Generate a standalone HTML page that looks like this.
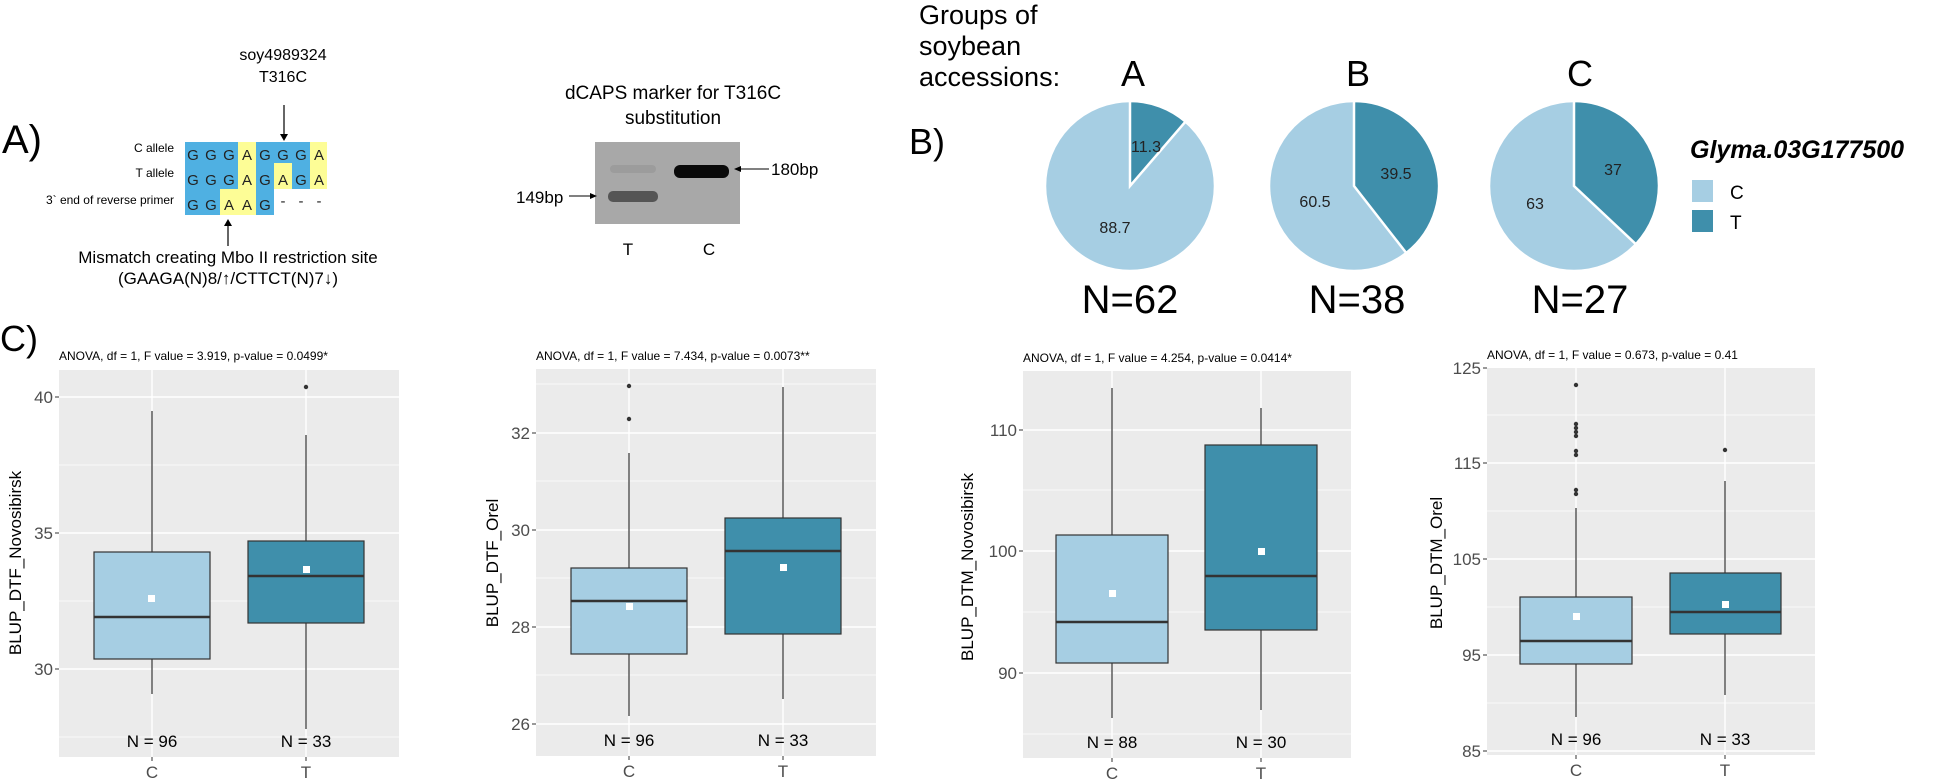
<!DOCTYPE html>
<html><head><meta charset="utf-8"><style>
html,body{margin:0;padding:0;background:#fff}
svg{display:block;font-family:"Liberation Sans",Arial,sans-serif}
</style></head><body>
<svg width="1936" height="784" viewBox="0 0 1936 784" xmlns="http://www.w3.org/2000/svg">
<!-- Panel A -->
<text x="2" y="153" font-size="40">A)</text>
<text x="283" y="60" font-size="16" text-anchor="middle">soy4989324</text>
<text x="283" y="82" font-size="16" text-anchor="middle">T316C</text>
<line x1="284" y1="105" x2="284" y2="136" stroke="#000" stroke-width="1.2"/>
<polygon points="280,134 288,134 284,141" fill="#000"/>
<g font-size="12" text-anchor="end">
<text x="174" y="152">C allele</text>
<text x="174" y="177">T allele</text>
<text x="174" y="204">3` end of reverse primer</text>
</g>
<g>
<rect x="185" y="142" width="53" height="25" fill="#4fb0e2"/><rect x="238" y="142" width="18" height="25" fill="#fdfd96"/>
<rect x="256" y="142" width="54" height="25" fill="#4fb0e2"/><rect x="310" y="142" width="17" height="25" fill="#fdfd96"/>
<rect x="185" y="167" width="53" height="22" fill="#4fb0e2"/><rect x="238" y="167" width="18" height="22" fill="#fdfd96"/>
<rect x="256" y="167" width="18" height="22" fill="#4fb0e2"/><rect x="274" y="163" width="18" height="26" fill="#fdfd96"/>
<rect x="292" y="163" width="18" height="26" fill="#4fb0e2"/><rect x="310" y="167" width="17" height="22" fill="#fdfd96"/>
<rect x="185" y="189" width="35" height="26" fill="#4fb0e2"/><rect x="220" y="189" width="36" height="26" fill="#fdfd96"/>
<rect x="256" y="189" width="18" height="26" fill="#4fb0e2"/>
</g>
<g font-size="15" fill="#222" text-anchor="middle">
<text x="193" y="160">G</text><text x="211" y="160">G</text><text x="229" y="160">G</text><text x="247" y="160">A</text><text x="265" y="160">G</text><text x="283" y="160">G</text><text x="301" y="160">G</text><text x="319" y="160">A</text>
<text x="193" y="185">G</text><text x="211" y="185">G</text><text x="229" y="185">G</text><text x="247" y="185">A</text><text x="265" y="185">G</text><text x="283" y="185">A</text><text x="301" y="185">G</text><text x="319" y="185">A</text>
<text x="193" y="210">G</text><text x="211" y="210">G</text><text x="229" y="210">A</text><text x="247" y="210">A</text><text x="265" y="210">G</text><text x="283" y="206">-</text><text x="301" y="206">-</text><text x="319" y="206">-</text>
</g>
<line x1="228" y1="224" x2="228" y2="246" stroke="#000" stroke-width="1.2"/>
<polygon points="224,226 232,226 228,219" fill="#000"/>
<text x="228" y="263" font-size="17" text-anchor="middle">Mismatch creating Mbo II restriction site</text>
<text x="228" y="284" font-size="17" text-anchor="middle">(GAAGA(N)8/↑/CTTCT(N)7↓)</text>

<!-- Gel -->
<text x="673" y="99" font-size="19" text-anchor="middle">dCAPS marker for T316C</text>
<text x="673" y="124" font-size="19" text-anchor="middle">substitution</text>
<rect x="595" y="142" width="145" height="82" fill="#a8a8a8"/>
<rect x="608" y="191" width="50" height="11" rx="5" fill="#555"/>
<rect x="610" y="165" width="46" height="8" rx="4" fill="#9c9c9c"/>
<rect x="674" y="165" width="55" height="13" rx="6" fill="#0a0a0a"/>
<text x="516" y="203" font-size="17">149bp</text>
<line x1="569" y1="196" x2="592" y2="196" stroke="#000"/><polygon points="590,193 597,196 590,199"/>
<text x="771" y="175" font-size="17">180bp</text>
<line x1="740" y1="169" x2="769" y2="169" stroke="#000"/><polygon points="741,166 734,169 741,172"/>
<text x="628" y="255" font-size="17" text-anchor="middle">T</text>
<text x="709" y="255" font-size="17" text-anchor="middle">C</text>

<!-- Panel B -->
<g font-size="27">
<text x="919" y="24">Groups of</text>
<text x="919" y="55">soybean</text>
<text x="919" y="86">accessions:</text>
</g>
<text x="909" y="154" font-size="36">B)</text>
<g font-size="36" text-anchor="middle"><text x="1133" y="86">A</text><text x="1358" y="86">B</text><text x="1580" y="86">C</text></g>
<g stroke="#fff" stroke-width="2.5">
<circle cx="1130" cy="186" r="85" fill="#a6cee3"/>
<path d="M1130,186 L1130,101 A85,85 0 0,1 1185.5,121.6 Z" fill="#3f8fab"/>
<circle cx="1354" cy="186" r="85" fill="#a6cee3"/>
<path d="M1354,186 L1354,101 A85,85 0 0,1 1406.3,253 Z" fill="#3f8fab"/>
<circle cx="1574" cy="186" r="85" fill="#a6cee3"/>
<path d="M1574,186 L1574,101 A85,85 0 0,1 1635.9,244.2 Z" fill="#3f8fab"/>
</g>
<g font-size="16" fill="#222" text-anchor="middle">
<text x="1146" y="152">11.3</text><text x="1115" y="233">88.7</text>
<text x="1396" y="179">39.5</text><text x="1315" y="207">60.5</text>
<text x="1613" y="175">37</text><text x="1535" y="209">63</text>
</g>
<g font-size="40" text-anchor="middle"><text x="1130" y="313">N=62</text><text x="1357" y="313">N=38</text><text x="1580" y="313">N=27</text></g>
<text x="1690" y="158" font-size="25" font-weight="bold" font-style="italic">Glyma.03G177500</text>
<rect x="1692" y="180" width="21" height="22" fill="#a6cee3"/>
<rect x="1692" y="210" width="21" height="22" fill="#3f8fab"/>
<text x="1730" y="199" font-size="19">C</text>
<text x="1730" y="229" font-size="19">T</text>

<!-- Panel C -->
<text x="0" y="351" font-size="36">C)</text>

<!-- Plot 1 -->
<g>
<text x="59" y="360" font-size="12">ANOVA, df = 1, F value = 3.919, p-value = 0.0499*</text>
<rect x="59" y="370" width="340" height="387" fill="#ebebeb"/>
<g stroke="#fff" stroke-width="0.7"><line x1="59" x2="399" y1="465" y2="465"/><line x1="59" x2="399" y1="601" y2="601"/><line x1="59" x2="399" y1="737" y2="737"/></g>
<g stroke="#fff" stroke-width="1.4"><line x1="59" x2="399" y1="397" y2="397"/><line x1="59" x2="399" y1="533" y2="533"/><line x1="59" x2="399" y1="669" y2="669"/><line x1="152" x2="152" y1="370" y2="757"/><line x1="306" x2="306" y1="370" y2="757"/></g>
<g stroke="#333" stroke-width="1"><line x1="55" x2="59" y1="397" y2="397"/><line x1="55" x2="59" y1="533" y2="533"/><line x1="55" x2="59" y1="669" y2="669"/><line x1="152" x2="152" y1="757" y2="761"/><line x1="306" x2="306" y1="757" y2="761"/></g>
<g font-size="17" fill="#4d4d4d" text-anchor="end"><text x="53" y="403">40</text><text x="53" y="539">35</text><text x="53" y="675">30</text></g>
<g font-size="17" fill="#4d4d4d" text-anchor="middle"><text x="152" y="778">C</text><text x="306" y="778">T</text></g>
<text transform="translate(21,563) rotate(-90)" font-size="17" text-anchor="middle">BLUP_DTF_Novosibirsk</text>
<g stroke="#333" stroke-width="1.2">
<line x1="152" x2="152" y1="411" y2="694"/><rect x="94" y="552" width="116" height="107" fill="#a6cee3"/><line x1="94" x2="210" y1="617" y2="617" stroke-width="2.5"/>
<line x1="306" x2="306" y1="435" y2="729"/><rect x="248" y="541" width="116" height="82" fill="#3f8fab"/><line x1="248" x2="364" y1="576" y2="576" stroke-width="2.5"/>
</g>
<circle cx="306" cy="387" r="2.2" fill="#333"/>
<rect x="148" y="595" width="7" height="7" fill="#fff"/><rect x="303" y="566" width="7" height="7" fill="#fff"/>
<g font-size="17" text-anchor="middle"><text x="152" y="747">N = 96</text><text x="306" y="747">N = 33</text></g>
</g>

<!-- Plot 2 -->
<g>
<text x="536" y="360" font-size="12">ANOVA, df = 1, F value = 7.434, p-value = 0.0073**</text>
<rect x="536" y="369" width="340" height="387" fill="#ebebeb"/>
<g stroke="#fff" stroke-width="0.7"><line x1="536" x2="876" y1="384" y2="384"/><line x1="536" x2="876" y1="481" y2="481"/><line x1="536" x2="876" y1="578" y2="578"/><line x1="536" x2="876" y1="675" y2="675"/></g>
<g stroke="#fff" stroke-width="1.4"><line x1="536" x2="876" y1="433" y2="433"/><line x1="536" x2="876" y1="530" y2="530"/><line x1="536" x2="876" y1="627" y2="627"/><line x1="536" x2="876" y1="724" y2="724"/><line x1="629" x2="629" y1="369" y2="756"/><line x1="783" x2="783" y1="369" y2="756"/></g>
<g stroke="#333"><line x1="532" x2="536" y1="433" y2="433"/><line x1="532" x2="536" y1="530" y2="530"/><line x1="532" x2="536" y1="627" y2="627"/><line x1="532" x2="536" y1="724" y2="724"/><line x1="629" x2="629" y1="756" y2="760"/><line x1="783" x2="783" y1="756" y2="760"/></g>
<g font-size="17" fill="#4d4d4d" text-anchor="end"><text x="530" y="439">32</text><text x="530" y="536">30</text><text x="530" y="633">28</text><text x="530" y="730">26</text></g>
<g font-size="17" fill="#4d4d4d" text-anchor="middle"><text x="629" y="777">C</text><text x="783" y="777">T</text></g>
<text transform="translate(498,563) rotate(-90)" font-size="17" text-anchor="middle">BLUP_DTF_Orel</text>
<g stroke="#333" stroke-width="1.2">
<line x1="629" x2="629" y1="453" y2="716"/><rect x="571" y="568" width="116" height="86" fill="#a6cee3"/><line x1="571" x2="687" y1="601" y2="601" stroke-width="2.5"/>
<line x1="783" x2="783" y1="387" y2="699"/><rect x="725" y="518" width="116" height="116" fill="#3f8fab"/><line x1="725" x2="841" y1="551" y2="551" stroke-width="2.5"/>
</g>
<circle cx="629" cy="386" r="2.2" fill="#333"/><circle cx="629" cy="419" r="2.2" fill="#333"/>
<rect x="626" y="603" width="7" height="7" fill="#fff"/><rect x="780" y="564" width="7" height="7" fill="#fff"/>
<g font-size="17" text-anchor="middle"><text x="629" y="746">N = 96</text><text x="783" y="746">N = 33</text></g>
</g>

<!-- Plot 3 -->
<g>
<text x="1023" y="362" font-size="12">ANOVA, df = 1, F value = 4.254, p-value = 0.0414*</text>
<rect x="1023" y="371" width="328" height="387" fill="#ebebeb"/>
<g stroke="#fff" stroke-width="0.7"><line x1="1023" x2="1351" y1="490" y2="490"/><line x1="1023" x2="1351" y1="612" y2="612"/><line x1="1023" x2="1351" y1="734" y2="734"/></g>
<g stroke="#fff" stroke-width="1.4"><line x1="1023" x2="1351" y1="430" y2="430"/><line x1="1023" x2="1351" y1="551" y2="551"/><line x1="1023" x2="1351" y1="673" y2="673"/><line x1="1112" x2="1112" y1="371" y2="758"/><line x1="1261" x2="1261" y1="371" y2="758"/></g>
<g stroke="#333"><line x1="1019" x2="1023" y1="430" y2="430"/><line x1="1019" x2="1023" y1="551" y2="551"/><line x1="1019" x2="1023" y1="673" y2="673"/><line x1="1112" x2="1112" y1="758" y2="762"/><line x1="1261" x2="1261" y1="758" y2="762"/></g>
<g font-size="17" fill="#4d4d4d" text-anchor="end"><text x="1017" y="436">110</text><text x="1017" y="557">100</text><text x="1017" y="679">90</text></g>
<g font-size="17" fill="#4d4d4d" text-anchor="middle"><text x="1112" y="779">C</text><text x="1261" y="779">T</text></g>
<text transform="translate(973,567) rotate(-90)" font-size="17" text-anchor="middle">BLUP_DTM_Novosibirsk</text>
<g stroke="#333" stroke-width="1.2">
<line x1="1112" x2="1112" y1="388" y2="718"/><rect x="1056" y="535" width="112" height="128" fill="#a6cee3"/><line x1="1056" x2="1168" y1="622" y2="622" stroke-width="2.5"/>
<line x1="1261" x2="1261" y1="408" y2="710"/><rect x="1205" y="445" width="112" height="185" fill="#3f8fab"/><line x1="1205" x2="1317" y1="576" y2="576" stroke-width="2.5"/>
</g>
<rect x="1109" y="590" width="7" height="7" fill="#fff"/><rect x="1258" y="548" width="7" height="7" fill="#fff"/>
<g font-size="17" text-anchor="middle"><text x="1112" y="748">N = 88</text><text x="1261" y="748">N = 30</text></g>
</g>

<!-- Plot 4 -->
<g>
<text x="1487" y="359" font-size="12">ANOVA, df = 1, F value = 0.673, p-value = 0.41</text>
<rect x="1487" y="368" width="328" height="387" fill="#ebebeb"/>
<g stroke="#fff" stroke-width="0.7"><line x1="1487" x2="1815" y1="415" y2="415"/><line x1="1487" x2="1815" y1="511" y2="511"/><line x1="1487" x2="1815" y1="607" y2="607"/><line x1="1487" x2="1815" y1="703" y2="703"/></g>
<g stroke="#fff" stroke-width="1.4"><line x1="1487" x2="1815" y1="463" y2="463"/><line x1="1487" x2="1815" y1="559" y2="559"/><line x1="1487" x2="1815" y1="655" y2="655"/><line x1="1487" x2="1815" y1="751" y2="751"/><line x1="1576" x2="1576" y1="368" y2="755"/><line x1="1725" x2="1725" y1="368" y2="755"/></g>
<g stroke="#333"><line x1="1483" x2="1487" y1="368" y2="368"/><line x1="1483" x2="1487" y1="463" y2="463"/><line x1="1483" x2="1487" y1="559" y2="559"/><line x1="1483" x2="1487" y1="655" y2="655"/><line x1="1483" x2="1487" y1="751" y2="751"/><line x1="1576" x2="1576" y1="755" y2="759"/><line x1="1725" x2="1725" y1="755" y2="759"/></g>
<g font-size="17" fill="#4d4d4d" text-anchor="end"><text x="1481" y="374">125</text><text x="1481" y="469">115</text><text x="1481" y="565">105</text><text x="1481" y="661">95</text><text x="1481" y="757">85</text></g>
<g font-size="17" fill="#4d4d4d" text-anchor="middle"><text x="1576" y="776">C</text><text x="1725" y="776">T</text></g>
<text transform="translate(1442,563) rotate(-90)" font-size="17" text-anchor="middle">BLUP_DTM_Orel</text>
<g stroke="#333" stroke-width="1.2">
<line x1="1576" x2="1576" y1="508" y2="717"/><rect x="1520" y="597" width="112" height="67" fill="#a6cee3"/><line x1="1520" x2="1632" y1="641" y2="641" stroke-width="2.5"/>
<line x1="1725" x2="1725" y1="481" y2="695"/><rect x="1670" y="573" width="111" height="61" fill="#3f8fab"/><line x1="1670" x2="1781" y1="612" y2="612" stroke-width="2.5"/>
</g>
<g fill="#333"><circle cx="1576" cy="385" r="2.2"/><circle cx="1576" cy="424" r="2.2"/><circle cx="1576" cy="428" r="2.2"/><circle cx="1576" cy="432" r="2.2"/><circle cx="1576" cy="436" r="2.2"/><circle cx="1576" cy="451" r="2.2"/><circle cx="1576" cy="455" r="2.2"/><circle cx="1576" cy="490" r="2.2"/><circle cx="1576" cy="494" r="2.2"/><circle cx="1725" cy="450" r="2.2"/></g>
<rect x="1573" y="613" width="7" height="7" fill="#fff"/><rect x="1722" y="601" width="7" height="7" fill="#fff"/>
<g font-size="17" text-anchor="middle"><text x="1576" y="745">N = 96</text><text x="1725" y="745">N = 33</text></g>
</g>
</svg>
</body></html>
